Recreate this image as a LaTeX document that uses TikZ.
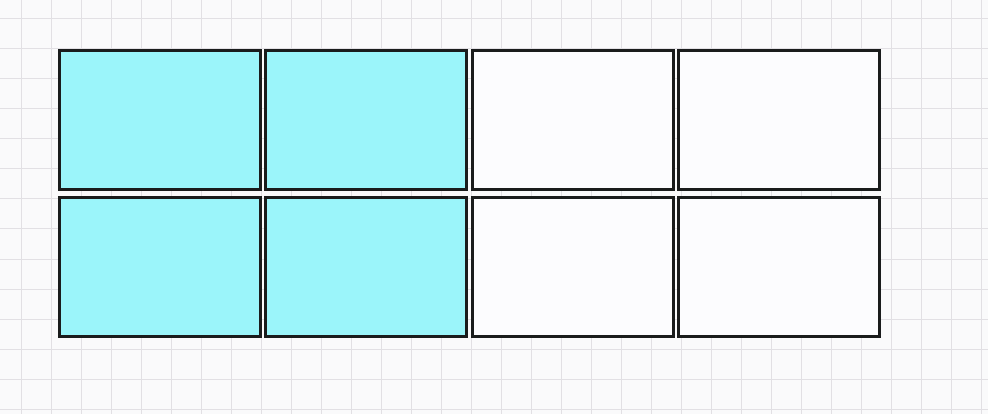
\documentclass[tikz,border=0pt]{standalone}
\usepackage{xcolor}
\usepackage{tikz}

\definecolor{gridbg}{HTML}{FAFAFB}
\definecolor{gridln}{HTML}{E2E0E4}
\definecolor{cyanfill}{HTML}{9BF5FA}
\definecolor{paperfill}{HTML}{FCFCFE}
\definecolor{edge}{HTML}{1A1C1C}

\begin{document}
\begin{tikzpicture}[
    x=1pt, y=-1pt,
    cell/.style={rectangle, draw=edge, line width=3pt, inner sep=0pt, outer sep=0pt,
                 minimum width=201pt, minimum height=139pt},
    shaded/.style={cell, fill=cyanfill},
    blank/.style={cell, fill=paperfill}
]

% background sheet with grid
\fill[gridbg] (0,0) rectangle (988,414);
\useasboundingbox (0,0) rectangle (988,414);
\foreach \gx in {21,51,...,981} \draw[gridln, line width=1pt] (\gx,0) -- (\gx,414);
\foreach \gy in {19,49,...,409} \draw[gridln, line width=1pt] (0,\gy) -- (988,\gy);

% top row
\node[shaded] (a1) at (160,120) {};
\node[shaded] (a2) at (366,120) {};
\node[blank]  (a3) at (573,120) {};
\node[blank]  (a4) at (779,120) {};
% bottom row
\node[shaded] (b1) at (160,267) {};
\node[shaded] (b2) at (366,267) {};
\node[blank]  (b3) at (573,267) {};
\node[blank]  (b4) at (779,267) {};

\end{tikzpicture}
\end{document}
